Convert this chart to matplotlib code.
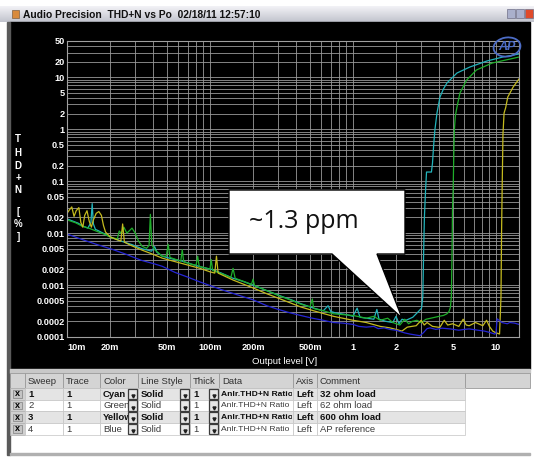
import numpy as np
import matplotlib
matplotlib.use('Agg')
import matplotlib.pyplot as plt
from matplotlib.patches import Rectangle, Polygon, Ellipse
from matplotlib.colors import LinearSegmentedColormap
from matplotlib.ticker import LogLocator, NullFormatter
from matplotlib.transforms import Bbox, TransformedBbox

# THD+N [%] vs output level [V]
cyan_32 = [(0.0100, 0.0188), (0.0110, 0.0170), (0.0120, 0.0155), (0.0127, 0.0139), (0.0140, 0.0125),
           (0.0147, 0.0160), (0.0150, 0.0370), (0.0153, 0.0150), (0.0158, 0.0118), (0.0165, 0.0112),
           (0.0185, 0.0095), (0.0206, 0.0082), (0.0240, 0.0070), (0.0285, 0.0060), (0.0335, 0.0050),
           (0.0390, 0.0045), (0.0410, 0.0055), (0.0425, 0.0043), (0.0463, 0.0036), (0.0540, 0.0032),
           (0.0638, 0.0029), (0.0750, 0.0025), (0.0882, 0.0022), (0.103, 0.0020), (0.120, 0.0017),
           (0.145, 0.00135), (0.170, 0.00118), (0.200, 0.00100), (0.250, 0.00078), (0.310, 0.00062),
           (0.370, 0.00052), (0.430, 0.00044), (0.530, 0.00036), (0.620, 0.00032), (0.670, 0.00040),
           (0.700, 0.00031), (0.760, 0.00029), (0.900, 0.00027), (1.00, 0.00025), (1.07, 0.00036),
           (1.12, 0.00024), (1.24, 0.00023), (1.40, 0.00022), (1.47, 0.00034), (1.52, 0.00022),
           (1.70, 0.00020), (1.90, 0.00019), (2.00, 0.00025), (2.10, 0.00018), (2.20, 0.00022),
           (2.35, 0.00021), (2.62, 0.00024), (2.84, 0.00030), (3.02, 0.00036), (3.08, 0.0006),
           (3.12, 0.004), (3.16, 0.02), (3.22, 0.067), (3.27, 0.150), (3.54, 0.150), (3.60, 0.223),
           (3.67, 0.50), (3.74, 0.96), (3.87, 2.05), (4.06, 4.17), (4.30, 6.0), (4.54, 7.76),
           (5.34, 12.1), (6.58, 15.8), (8.65, 20.6), (11.2, 24.6), (14.5, 28.1)]

green_62 = [(0.0100, 0.0180), (0.0115, 0.0158), (0.0127, 0.0137), (0.0145, 0.0122), (0.0162, 0.0108),
            (0.0185, 0.0094), (0.0206, 0.0081), (0.0225, 0.0078), (0.0232, 0.0110), (0.0240, 0.0098),
            (0.0250, 0.0130), (0.0262, 0.0100), (0.0272, 0.0110), (0.0285, 0.0125), (0.0300, 0.0100),
            (0.0315, 0.0072), (0.0335, 0.0056), (0.0360, 0.0051), (0.0375, 0.0058), (0.0383, 0.0230),
            (0.0392, 0.0060), (0.0410, 0.0048), (0.0463, 0.0036), (0.0495, 0.0036), (0.0510, 0.0061),
            (0.0525, 0.0034), (0.0580, 0.0031), (0.0625, 0.0029), (0.0640, 0.0048), (0.0655, 0.0028),
            (0.0750, 0.0025), (0.0800, 0.0024), (0.0820, 0.0036), (0.0840, 0.0023), (0.0950, 0.0021),
            (0.1000, 0.0020), (0.1020, 0.0031), (0.1045, 0.0019), (0.1250, 0.0016), (0.1400, 0.0014),
            (0.1450, 0.0021), (0.1500, 0.00135), (0.1800, 0.00112), (0.1950, 0.00102), (0.2000, 0.0013),
            (0.2050, 0.00098), (0.2500, 0.00078), (0.3100, 0.00061), (0.3700, 0.00051), (0.4300, 0.00043),
            (0.5000, 0.00038), (0.5200, 0.00054), (0.5300, 0.00036), (0.5400, 0.00035), (0.6200, 0.00032),
            (0.7300, 0.00028), (0.8500, 0.00027), (1.00, 0.00026), (1.24, 0.00023), (1.40, 0.00025),
            (1.55, 0.00021), (1.75, 0.00023), (1.90, 0.00019), (2.13, 0.00017), (2.30, 0.00022),
            (2.45, 0.00018), (2.60, 0.00020), (2.80, 0.00021), (3.00, 0.00019), (3.25, 0.00022),
            (3.50, 0.00023), (3.75, 0.00024), (4.00, 0.00025), (4.30, 0.00026), (4.54, 0.00028),
            (4.70, 0.00031), (4.80, 0.00037), (4.88, 0.00060), (4.93, 0.0040), (4.97, 0.030),
            (5.02, 0.067), (5.08, 0.40), (5.12, 0.96), (5.20, 1.8), (5.34, 2.67), (5.60, 4.98),
            (6.24, 8.87), (7.30, 13.8), (9.40, 18.8), (12.6, 22.5), (14.5, 24.6)]

yellow_600 = [(0.0100, 0.024), (0.0104, 0.028), (0.0108, 0.032), (0.0112, 0.021), (0.0116, 0.027),
              (0.0121, 0.031), (0.0125, 0.016), (0.0129, 0.013), (0.0133, 0.022), (0.0138, 0.027),
              (0.0143, 0.017), (0.0148, 0.013), (0.0153, 0.018), (0.0160, 0.024), (0.0167, 0.026),
              (0.0174, 0.022), (0.0180, 0.014), (0.0186, 0.0105), (0.0200, 0.0085), (0.0220, 0.0076),
              (0.0238, 0.0070), (0.0245, 0.0150), (0.0252, 0.0067), (0.0280, 0.0058), (0.0335, 0.0047),
              (0.0400, 0.0039), (0.0463, 0.0033), (0.0550, 0.0029), (0.0638, 0.0026), (0.0750, 0.0023),
              (0.0850, 0.0021), (0.1000, 0.0018), (0.1080, 0.0017), (0.1110, 0.0036), (0.1140, 0.0017),
              (0.1450, 0.00125), (0.2000, 0.00088), (0.2500, 0.00068), (0.3100, 0.00054), (0.4300, 0.00038),
              (0.5300, 0.00032), (0.7300, 0.00025), (1.00, 0.00021), (1.24, 0.00019), (1.55, 0.00016),
              (1.81, 0.00015), (2.00, 0.00014), (2.20, 0.00013), (2.40, 0.000155), (2.77, 0.000165),
              (3.00, 0.00021), (3.15, 0.00017), (3.30, 0.00019), (3.60, 0.00016), (4.05, 0.000153),
              (4.35, 0.00021), (4.60, 0.00017), (4.98, 0.00018), (5.50, 0.00016), (5.90, 0.00022),
              (6.20, 0.00017), (6.50, 0.000165), (7.20, 0.00019), (8.10, 0.000165), (8.60, 0.00021),
              (9.00, 0.00016), (9.50, 0.00013), (9.90, 0.000122), (10.6, 0.000114), (10.85, 0.0006),
              (10.95, 0.01), (11.05, 0.067), (11.2, 0.8), (11.4, 2.05), (11.7, 2.6), (12.1, 4.17),
              (13.2, 6.5), (14.5, 9.3)]

blue_ref = [(0.0100, 0.0096), (0.0130, 0.0074), (0.0160, 0.0061), (0.0206, 0.0049), (0.0260, 0.0039),
            (0.0330, 0.0030), (0.0400, 0.0026), (0.0463, 0.0023), (0.0570, 0.00175), (0.0700, 0.00142),
            (0.0850, 0.00115), (0.1000, 0.00098), (0.1200, 0.00082), (0.1450, 0.00069), (0.1700, 0.00060),
            (0.2000, 0.00052), (0.2500, 0.00040), (0.3000, 0.00034), (0.3500, 0.00030), (0.4300, 0.00026),
            (0.5200, 0.00023), (0.6200, 0.00021), (0.7300, 0.00019), (0.8500, 0.000185), (1.00, 0.000175),
            (1.10, 0.00016), (1.24, 0.000155), (1.40, 0.00016), (1.50, 0.000145), (1.65, 0.00015),
            (1.81, 0.00014), (2.00, 0.000135), (2.13, 0.000128), (2.30, 0.00012), (2.50, 0.000114),
            (2.70, 0.00011), (2.94, 0.000106), (3.10, 0.00012), (3.30, 0.000145), (3.46, 0.00015),
            (3.80, 0.00014), (4.20, 0.000148), (4.80, 0.000143), (5.50, 0.000135), (6.00, 0.00014),
            (6.50, 0.000143), (7.50, 0.000135), (8.30, 0.00013), (9.10, 0.000122), (9.80, 0.000114),
            (10.0, 0.000118), (10.2, 0.000224), (11.0, 0.00019), (12.0, 0.00018), (12.5, 0.00019),
            (13.5, 0.000185), (14.5, 0.000175)]

x_ticks = [0.01, 0.02, 0.05, 0.1, 0.2, 0.5, 1, 2, 5, 10]
x_labels = ['10m', '20m', '50m', '100m', '200m', '500m', '1', '2', '5', '10']
y_ticks = [50, 20, 10, 5, 2, 1, 0.5, 0.2, 0.1, 0.05, 0.02, 0.01, 0.005, 0.002, 0.001,
           0.0005, 0.0002, 0.0001]
y_labels = ['50', '20', '10', '5', '2', '1', '0.5', '0.2', '0.1', '0.05', '0.02', '0.01',
            '0.005', '0.002', '0.001', '0.0005', '0.0002', '0.0001']

# sweep table under the graph
headers = ['', 'Sweep', 'Trace', 'Color', 'Line Style', 'Thick', 'Data', 'Axis', 'Comment', '']
sweeps = ['1', '2', '3', '4']
traces = ['1', '1', '1', '1']
colour_names = ['Cyan', 'Green', 'Yellow', 'Blue']
line_styles = ['Solid', 'Solid', 'Solid', 'Solid']
thick = ['1', '1', '1', '1']
data_names = ['Anlr.THD+N Ratio'] * 4
axis_side = ['Left', 'Left', 'Left', 'Left']
comments = ['32 ohm load', '62 ohm load', '600 ohm load', 'AP reference']

series = [(cyan_32, '#22b4bc'), (green_62, '#1fae2a'), (yellow_600, '#c4ba1e'), (blue_ref, '#2626d6')]

W, H = 534, 457
plt.rcParams['font.family'] = ['Liberation Sans', 'DejaVu Sans']
fig = plt.figure(figsize=(W / 100, H / 100), dpi=100)
fig.patch.set_facecolor('white')


def px_rect(x0, y0, x1, y1):
    return [x0 / W, 1 - y1 / H, (x1 - x0) / W, (y1 - y0) / H]


bg = fig.add_axes(px_rect(0, 0, W, H))
bg.axis('off')
bg.set_xlim(0, W)
bg.set_ylim(H, 0)

# window title bar
bar = LinearSegmentedColormap.from_list('bar', ['#f2f2f6', '#c2c4ce'])
bg.imshow(np.linspace(0, 1, 20).reshape(-1, 1), cmap=bar, extent=(0, W, 22, 6), aspect='auto')
bg.add_patch(Rectangle((12, 10), 7, 8, fc='#d88a3c', ec='#806040', lw=0.5))
bg.text(23, 14.5, 'Audio Precision  THD+N vs Po  02/18/11 12:57:10', fontsize=7.4,
        weight='bold', va='center', color='#101010')
for bx, c in [(507, '#aab0cc'), (516, '#aab0cc'), (525, '#e04a2a')]:
    bg.add_patch(Rectangle((bx, 9), 8, 9, fc=c, ec='#707088', lw=0.5))

# black graph panel, frame and separator
bg.add_patch(Rectangle((10, 22), 520, 347, color='black'))
bg.add_patch(Rectangle((7, 22), 3, 433, color='#5a5a5a'))
bg.add_patch(Rectangle((10, 369), 520, 4, color='#c8c8c8'))
bg.add_patch(Rectangle((10, 453), 520, 1.5, color='#b0b0b0'))

for letter, ly in zip(['T', 'H', 'D', '+', 'N', '[', '%', ']'],
                      [139, 153, 166, 178, 190, 212, 224, 237]):
    bg.text(18, ly, letter, color='white', fontsize=7, weight='bold', ha='center', va='center')
bg.text(285, 362, 'Output level [V]', color='white', fontsize=6.8, ha='center', va='center')

# table
cols = [10, 25, 63, 100, 138, 190, 219, 293, 317, 465, 530]
for i, h in enumerate(headers):
    bg.add_patch(Rectangle((cols[i], 373), cols[i + 1] - cols[i], 15, fc='#d4d4d4',
                           ec='#9a9a9a', lw=0.6))
    bg.text(cols[i] + 3, 381, h, fontsize=6.8, va='center', color='#303030')

row_h = 11.7
for r in range(4):
    y0 = 388 + r * row_h
    fill = '#e4e4e4' if r % 2 == 0 else 'white'
    weight = 'bold' if r % 2 == 0 else 'normal'
    tcol = '#101010' if r % 2 == 0 else '#3a3a3a'
    bg.add_patch(Rectangle((cols[0], y0), cols[1] - cols[0], row_h, fc='#d0d0d0', ec='#b0b0b0', lw=0.5))
    bg.add_patch(Rectangle((13, y0 + 2.3), 8.5, 7.2, fc='#c4c4c4', ec='#808080', lw=0.5))
    bg.text(17.2, y0 + row_h / 2, 'x', fontsize=6.5, weight='bold', ha='center', va='center')
    vals = [sweeps[r], traces[r], colour_names[r], line_styles[r], thick[r], data_names[r],
            axis_side[r], comments[r]]
    for c, v in enumerate(vals, start=1):
        cell = Rectangle((cols[c], y0), cols[c + 1] - cols[c], row_h, fc=fill, ec='#c4c4c4', lw=0.5)
        bg.add_patch(cell)
        fs, dx = (6.1, 1.8) if c == 6 else (6.8, 3)
        t = bg.text(cols[c] + dx, y0 + row_h / 2 + 0.3, v, fontsize=fs, weight=weight,
                    va='center', color=tcol, clip_on=True)
        t.set_clip_box(TransformedBbox(Bbox.from_extents(cols[c], y0, cols[c + 1] - 1, y0 + row_h),
                                       bg.transData))
    for c in (3, 4, 5):
        bx = cols[c + 1] - 10
        bg.add_patch(Rectangle((bx, y0 + 0.5), 9, row_h - 1, fc='#e6e6e6', ec='#3c3c3c',
                               lw=0.9, zorder=4))
        bg.plot(bx + 4.5, y0 + 8, marker='v', ms=2.2, color='#202020', zorder=5)

bg.set_xlim(0, W)
bg.set_ylim(H, 0)

# graph
ax = fig.add_axes(px_rect(67, 41, 519, 337))
ax.set_facecolor('black')
ax.set_xscale('log')
ax.set_yscale('log')
for pts, colour in series:
    v, thd = np.array(pts).T
    ax.plot(v, thd, color=colour, lw=0.9)
ax.set_xlim(0.01, 14.5)
ax.set_ylim(0.0001, 50)
ax.set_xticks(x_ticks, x_labels, fontweight='bold')
ax.set_yticks(y_ticks, y_labels, fontweight='bold')
ax.xaxis.set_minor_locator(LogLocator(base=10, subs=np.arange(1, 10), numticks=40))
ax.yaxis.set_minor_locator(LogLocator(base=10, subs=np.arange(1, 10), numticks=40))
ax.xaxis.set_minor_formatter(NullFormatter())
ax.yaxis.set_minor_formatter(NullFormatter())
ax.grid(True, which='both', color='#9a9a9a', lw=0.6)
ax.set_axisbelow(True)
ax.tick_params(which='both', length=0, labelcolor='white', labelsize=6.6)
ax.tick_params(axis='x', pad=4)
ax.tick_params(axis='y', pad=1.5)
ax.get_xticklabels()[0].set_horizontalalignment('left')
for s in ax.spines.values():
    s.set_color('#a0a0a0')
    s.set_linewidth(0.8)

# overlay: AP logo and callout
ov = fig.add_axes(px_rect(0, 0, W, H))
ov.axis('off')
ov.set_xlim(0, W)
ov.set_ylim(H, 0)
ov.add_patch(Ellipse((507, 47), 27, 19, angle=-8, fill=False, ec='#4c6cc6', lw=1.3))
ov.text(507, 47.5, 'AP', fontsize=9, style='italic', weight='bold', color='#4c6cc6',
        ha='center', va='center')
bubble = [(229, 190), (405, 190), (405, 254), (377, 254), (402, 318), (332, 254), (229, 254)]
ov.add_patch(Polygon(bubble, closed=True, fc='white', ec='black', lw=1.0))
ov.text(304, 221, '~1.3 ppm', fontsize=18, family='Open Sans', ha='center', va='center',
        color='#111111')

fig.savefig('out.png', dpi=100)
